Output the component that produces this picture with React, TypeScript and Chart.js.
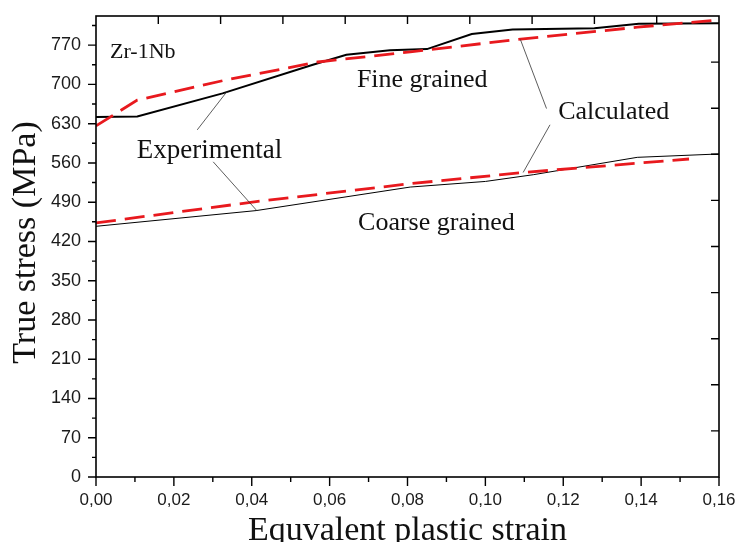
import React, { useEffect, useRef } from "react";
import { Chart, registerables } from "chart.js";

Chart.register(...registerables);

// ---- Data ----
const fineExpX = [0, 0.0106, 0.0325, 0.0557, 0.0643, 0.0755, 0.085, 0.0965, 0.107, 0.128, 0.1394, 0.16];
const fineExpY = [642, 643, 684, 735, 753, 761, 763, 790, 798, 800, 808, 809];

const fineCalcX = [0, 0.0106, 0.0334, 0.057, 0.0807, 0.0858, 0.108, 0.139, 0.16];
const fineCalcY = [626, 672, 708, 740, 758, 762, 780, 802, 815];

const coarseExpX = [0, 0.0411, 0.0807, 0.1, 0.1123, 0.139, 0.16];
const coarseExpY = [447, 475, 517, 527, 539, 570, 576];

const coarseCalcX = [0, 0.0411, 0.0807, 0.1098, 0.1523];
const coarseCalcY = [453, 491, 523, 543, 567];

const xTickValues = [0, 0.02, 0.04, 0.06, 0.08, 0.1, 0.12, 0.14, 0.16];
const xMinorValues = [0.01, 0.03, 0.05, 0.07, 0.09, 0.11, 0.13, 0.15];
const yTickValues = [0, 70, 140, 210, 280, 350, 420, 490, 560, 630, 700, 770];
const yMinorValues = [35, 105, 175, 245, 315, 385, 455, 525, 595, 665, 735, 805];

const X_MIN = 0;
const X_MAX = 0.16;
const Y_MIN = 0;
const Y_MAX = 822;

const xTitle = "Equvalent plastic strain";
const yTitle = "True stress (MPa)";

// annotation texts, anchored in data coordinates (left edge, baseline)
const annotationTexts = [
  { text: "Zr-1Nb", x: 0.0036, y: 747, size: 22 },
  { text: "Fine grained", x: 0.067, y: 696, size: 26 },
  { text: "Coarse grained", x: 0.0673, y: 441, size: 26 },
  { text: "Calculated", x: 0.1187, y: 638, size: 26 },
  { text: "Experimental", x: 0.01045, y: 568, size: 27 },
];

// leader lines, in data coordinates
const leaderLines = [
  { x1: 0.026, y1: 619, x2: 0.0336, y2: 687 },
  { x1: 0.0301, y1: 562, x2: 0.0413, y2: 475 },
  { x1: 0.1157, y1: 657, x2: 0.109, y2: 780 },
  { x1: 0.1166, y1: 628, x2: 0.1097, y2: 543 },
];

const toPoints = (xs: number[], ys: number[]) => xs.map((x, i) => ({ x, y: ys[i] }));

const SERIF = "'Liberation Serif', 'Times New Roman', serif";
const SANS = "'Liberation Sans', Arial, sans-serif";

const framePlugin = {
  id: "frame",
  afterDatasetsDraw(chart: any) {
    const { ctx, chartArea } = chart;
    const xs = chart.scales.x;
    const ys = chart.scales.y;
    const { left, right, top, bottom } = chartArea;
    ctx.save();

    // leader lines
    ctx.strokeStyle = "#333";
    ctx.lineWidth = 0.8;
    leaderLines.forEach((l) => {
      ctx.beginPath();
      ctx.moveTo(xs.getPixelForValue(l.x1), ys.getPixelForValue(l.y1));
      ctx.lineTo(xs.getPixelForValue(l.x2), ys.getPixelForValue(l.y2));
      ctx.stroke();
    });

    // annotation texts
    ctx.fillStyle = "#111";
    ctx.textAlign = "left";
    ctx.textBaseline = "alphabetic";
    annotationTexts.forEach((a) => {
      ctx.font = `${a.size}px ${SERIF}`;
      ctx.fillText(a.text, xs.getPixelForValue(a.x), ys.getPixelForValue(a.y));
    });

    // frame
    ctx.strokeStyle = "#000";
    ctx.lineWidth = 1.6;
    ctx.strokeRect(left, top, right - left, bottom - top);

    ctx.lineWidth = 1.4;
    ctx.beginPath();
    // bottom ticks (outward)
    xTickValues.forEach((v) => {
      const p = xs.getPixelForValue(v);
      ctx.moveTo(p, bottom);
      ctx.lineTo(p, bottom + 9);
    });
    xMinorValues.forEach((v) => {
      const p = xs.getPixelForValue(v);
      ctx.moveTo(p, bottom);
      ctx.lineTo(p, bottom + 5);
    });
    // left ticks (outward)
    yTickValues.forEach((v) => {
      const p = ys.getPixelForValue(v);
      ctx.moveTo(left, p);
      ctx.lineTo(left - 8, p);
    });
    yMinorValues.forEach((v) => {
      const p = ys.getPixelForValue(v);
      ctx.moveTo(left, p);
      ctx.lineTo(left - 4, p);
    });
    // top ticks (inward), 10 divisions
    for (let i = 1; i < 10; i++) {
      const p = left + ((right - left) * i) / 10;
      ctx.moveTo(p, top);
      ctx.lineTo(p, top + 8);
    }
    // right ticks (inward), 10 divisions
    for (let i = 1; i < 10; i++) {
      const p = bottom - ((bottom - top) * i) / 10;
      ctx.moveTo(right, p);
      ctx.lineTo(right - 8, p);
    }
    ctx.stroke();

    // axis titles
    ctx.fillStyle = "#111";
    ctx.font = `34px ${SERIF}`;
    ctx.textAlign = "center";
    ctx.textBaseline = "alphabetic";
    ctx.fillText(xTitle, (left + right) / 2, 540);
    ctx.save();
    ctx.translate(35, (top + bottom) / 2 - 4);
    ctx.rotate(-Math.PI / 2);
    ctx.fillText(yTitle, 0, 0);
    ctx.restore();

    ctx.restore();
  },
};

export default function App() {
  const canvasRef = useRef<HTMLCanvasElement | null>(null);

  useEffect(() => {
    document.body.style.margin = "0";
    const canvas = canvasRef.current;
    if (!canvas) return;
    const red = "#e8191e";
    const chart = new Chart(canvas, {
      type: "scatter",
      data: {
        datasets: [
          {
            label: "Fine calculated",
            data: toPoints(fineCalcX, fineCalcY),
            showLine: true,
            borderColor: red,
            borderWidth: 2.8,
            borderDash: [20, 9],
            pointRadius: 0,
            tension: 0,
          },
          {
            label: "Coarse calculated",
            data: toPoints(coarseCalcX, coarseCalcY),
            showLine: true,
            borderColor: red,
            borderWidth: 2.8,
            borderDash: [20, 9],
            pointRadius: 0,
            tension: 0,
          },
          {
            label: "Fine experimental",
            data: toPoints(fineExpX, fineExpY),
            showLine: true,
            borderColor: "#000",
            borderWidth: 2,
            pointRadius: 0,
            tension: 0,
          },
          {
            label: "Coarse experimental",
            data: toPoints(coarseExpX, coarseExpY),
            showLine: true,
            borderColor: "#000",
            borderWidth: 1,
            pointRadius: 0,
            tension: 0,
          },
        ],
      },
      options: {
        responsive: false,
        animation: false,
        events: [],
        layout: { autoPadding: false, padding: { top: 16, right: 20, left: 0, bottom: 0 } },
        plugins: {
          legend: { display: false },
          tooltip: { enabled: false },
          title: { display: false },
        },
        scales: {
          x: {
            type: "linear",
            min: X_MIN,
            max: X_MAX,
            afterBuildTicks: (scale: any) => {
              scale.ticks = xTickValues.map((v) => ({ value: v }));
            },
            afterFit: (scale: any) => {
              scale.height = 65;
              scale.paddingLeft = 0;
              scale.paddingRight = 0;
            },
            grid: { display: false, drawTicks: false },
            border: { display: false },
            ticks: {
              padding: 13,
              color: "#1a1a1a",
              font: { family: SANS, size: 17 },
              maxRotation: 0,
              autoSkip: false,
              callback: (v: any) => Number(v).toFixed(2).replace(".", ","),
            },
          },
          y: {
            type: "linear",
            min: Y_MIN,
            max: Y_MAX,
            afterBuildTicks: (scale: any) => {
              scale.ticks = yTickValues.map((v) => ({ value: v }));
            },
            afterFit: (scale: any) => {
              scale.width = 96;
              scale.paddingTop = 0;
              scale.paddingBottom = 0;
            },
            grid: { display: false, drawTicks: false },
            border: { display: false },
            ticks: {
              padding: 15,
              color: "#1a1a1a",
              font: { family: SANS, size: 18 },
              autoSkip: false,
              callback: (v: any) => String(v),
            },
          },
        },
      },
      plugins: [framePlugin],
    } as any);
    return () => chart.destroy();
  }, []);

  return (
    <div style={{ position: "fixed", left: 0, top: 0, width: 739, height: 542, background: "#fff" }}>
      <canvas ref={canvasRef} width={739} height={542} style={{ width: 739, height: 542 }} />
    </div>
  );
}
